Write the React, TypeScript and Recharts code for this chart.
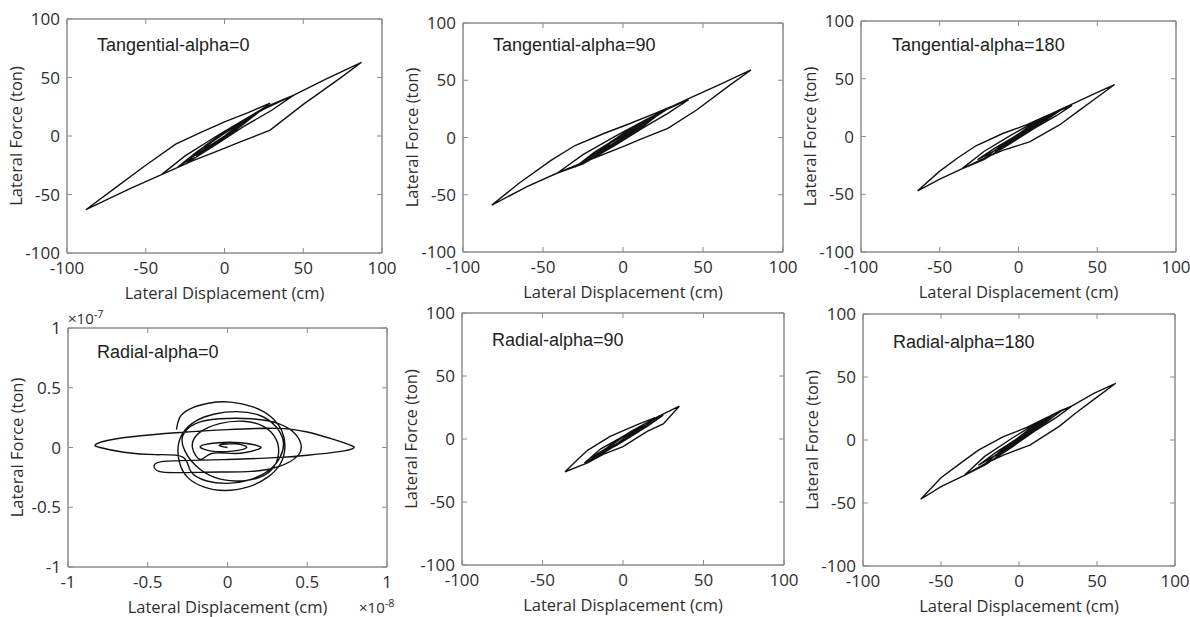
import React from 'react'
import { LineChart, Line, XAxis, YAxis, Label, ReferenceArea } from 'recharts'

const FONT = '"Open Sans", "DejaVu Sans", sans-serif'
const TITLE_FONT = '"Liberation Sans", Arial, sans-serif'
const AXIS_GREY = '#8c8c8c'
const TEXT_GREY = '#2e2e2e'

const tonTicks = [-100, -50, 0, 50, 100]
const scaledTicks = [-1, -0.5, 0, 0.5, 1]

// Tangential, alpha = 0
const tan0Disp = [0, 10, 18, 8, -5, -16, -8, 5, 20, 24, 12, -2, -18, -24, -12, 5, 25, 44, 30, 12, -5, -25, -40, -25, -5, 15, 30, 44, 65, 87, 73, 50, 29, 10, -3, -20, -40, -60, -88, -70, -50, -31, -15, 0, 15, 29, 15, 0, -15, -30, -18, -2, 12, 25, 12, -3, -18, -8, 4, 15, 5, -6, 0]
const tan0Force = [0, 11, 17, 6, -7, -15, -5, 7, 20, 23, 10, -4, -18, -22, -8, 8, 23, 35, 22, 8, -7, -24, -33, -17, 0, 16, 27, 35, 49, 63, 49, 27, 5, -5, -12, -21, -33, -45, -63, -45, -25, -7, 3, 12, 20, 28, 14, 0, -13, -27, -14, 1, 13, 24, 10, -4, -17, -5, 6, 14, 3, -6, 0]

// Tangential, alpha = 90
const tan90Disp = [0, 10, 18, 8, -5, -16, -8, 5, 20, 24, 12, -2, -18, -24, -12, 5, 25, 41, 28, 12, -5, -25, -41, -25, -5, 15, 29, 41, 60, 80, 67, 46, 28, 10, 0, -20, -41, -60, -82, -65, -45, -30, -12, 4, 20, 30, 18, 2, -14, -30, -18, -2, 12, 25, 12, -3, -17, -8, 4, 14, 5, -5, 0]
const tan90Force = [0, 10, 16, 6, -6, -14, -4, 7, 19, 22, 9, -3, -17, -21, -8, 8, 23, 33, 21, 8, -7, -23, -31, -15, 1, 16, 26, 34, 46, 59, 46, 24, 8, -2, -8, -19, -31, -43, -59, -40, -20, -7, 3.5, 12, 21, 27, 16, 2, -12, -26, -13, 1, 12, 23, 10, -3, -16, -5, 5, 13, 3, -5, 0]

// Tangential, alpha = 180
const tan180Disp = [0, 8, 15, 6, -5, -14, -6, 5, 18, 22, 10, -3, -16, -22, -10, 6, 20, 34, 24, 10, -5, -22, -36, -22, -5, 12, 26, 34, 48, 61, 50, 36, 26, 7, -10, -22, -36, -50, -64, -50, -38, -27, -10, 5, 18, 27, 15, 0, -12, -26, -15, 0, 12, 22, 10, -3, -15, -6, 4, 12, 4, -4, 0]
const tan180Force = [0, 9, 13, 4, -6, -12, -4, 7, 17, 20, 8, -3, -15, -19, -7, 8, 19, 27, 18, 7, -6, -20, -28, -13, 1, 14, 23, 28, 37, 45, 34, 20, 10, -4.6, -12, -19, -28, -37, -47, -30, -18, -8, 2.6, 10, 18, 23, 12, 1, -10, -20, -10, 2, 12, 20, 8, -3, -13, -4, 5, 11, 2, -4, 0]

// Radial, alpha = 0 (displacement in 1e-8 cm, force in 1e-7 ton)
const rad0Disp = [-0.32, -0.3, -0.24, -0.12, 0.02, 0.16, 0.27, 0.34, 0.36, 0.33, 0.25, 0.13, -0.02, -0.15, -0.25, -0.3, -0.31, -0.28, -0.2, -0.08, 0.06, 0.2, 0.3, 0.35, 0.33, 0.26, 0.14, 0, -0.13, -0.23, -0.28, -0.45, -0.65, -0.8, -0.83, -0.78, -0.6, -0.3, 0, 0.3, 0.5, 0.66, 0.77, 0.79, 0.7, 0.5, 0.3, 0, -0.3, -0.42, -0.46, -0.43, -0.3, -0.05, 0.15, 0.32, 0.44, 0.46, 0.42, 0.32, 0.15, -0.05, -0.2, -0.28, -0.27, -0.2, -0.08, 0.05, 0.18, 0.28, 0.32, 0.3, 0.22, 0.1, -0.05, -0.18, -0.22, -0.17, -0.1, 0.05, 0.18, 0.2, 0.08, -0.06, -0.17, -0.1, 0.03, 0.12, 0.05, -0.05, 0]
const rad0Force = [0.15, 0.25, 0.32, 0.37, 0.38, 0.34, 0.26, 0.14, 0, -0.14, -0.25, -0.33, -0.36, -0.33, -0.25, -0.13, 0, 0.12, 0.22, 0.28, 0.3, 0.27, 0.18, 0.05, -0.08, -0.19, -0.27, -0.3, -0.28, -0.2, -0.08, -0.06, -0.04, 0, 0.02, 0.05, 0.09, 0.125, 0.15, 0.16, 0.13, 0.07, 0.02, -0.005, -0.035, -0.065, -0.085, -0.1, -0.11, -0.12, -0.15, -0.2, -0.21, -0.205, -0.2, -0.16, -0.07, 0.03, 0.12, 0.2, 0.24, 0.24, 0.2, 0.1, -0.02, -0.15, -0.25, -0.28, -0.26, -0.18, -0.05, 0.08, 0.18, 0.22, 0.2, 0.12, 0, -0.1, -0.05, -0.05, -0.02, 0.01, 0.04, 0.04, 0.01, -0.03, -0.03, 0, 0.03, 0.02, 0]

// Radial, alpha = 90
const rad90Disp = [0, 6, 12, 4, -5, -12, -5, 4, 15, 20, 10, -2, -14, -20, -10, 5, 18, 25, 15, 2, -12, -24, -14, 0, 12, 22, 35, 25, 15, 0, -12, -22, -36, -28, -22, -8, 10, 20, 10, -4, -16, -6, 5, 14, 5, -4, 0]
const rad90Force = [0, 6, 10, 3, -5, -10, -3, 5, 13, 16, 7, -2, -12, -15, -7, 6, 15, 19, 10, 0, -11, -19, -8, 2, 11, 18, 26, 12, 6, -6, -12, -19, -26, -16, -9, 2, 12, 17, 6, -5, -13, -3, 6, 11, 3, -4, 0]

// Radial, alpha = 180
const rad180Disp = [0, 8, 15, 6, -5, -14, -6, 5, 18, 22, 10, -3, -16, -22, -10, 6, 20, 34, 24, 10, -5, -22, -35, -22, -5, 12, 26, 34, 48, 62, 50, 36, 26, 7, -10, -22, -35, -50, -63, -50, -37, -26, -10, 5, 18, 27, 15, 0, -12, -26, -15, 0, 12, 22, 10, -3, -15, -6, 4, 12, 4, -4, 0]
const rad180Force = [0, 9, 13, 4, -6, -12, -4, 7, 17, 20, 8, -3, -15, -19, -7, 8, 19, 27, 18, 7, -6, -20, -28, -13, 1, 14, 23, 27, 37, 45, 34, 21, 11, -4, -12, -19, -28, -37, -47, -30, -18, -8, 2.6, 10, 18, 23, 12, 1, -10, -20, -10, 2, 12, 20, 8, -3, -13, -4, 5, 11, 2, -4, 0]

// chart frame around the plot box
const ML = 65
const MT = 15
const MR = 15
const MB = 55

interface PanelProps {
  disp: number[]
  force: number[]
  box: [number, number, number, number] // plot left, top, width, height on the page
  ticks: number[]
  title: string
  titleAt: [number, number]
  curve?: 'linear' | 'natural'
}

function HysteresisPanel({ disp, force, box, ticks, title, titleAt, curve = 'linear' }: PanelProps) {
  const data = disp.map((d, i) => ({ d, f: force[i] }))
  const [px, py, pw, ph] = box
  const lo = ticks[0]
  const hi = ticks[ticks.length - 1]
  const domain: [number, number] = [lo, hi]
  const tickStyle = { fill: TEXT_GREY, fontSize: 17, fontFamily: FONT }
  const lineStyle = { stroke: AXIS_GREY, strokeWidth: 1 }

  return (
    <>
      <div style={{ position: 'absolute', left: px - ML, top: py - MT }}>
        <LineChart
          width={pw + ML + MR}
          height={ph + MT + MB}
          data={data}
          margin={{ top: MT - 1, right: MR - 1, left: 0, bottom: 0 }}
        >
          <XAxis
            xAxisId="b"
            dataKey="d"
            type="number"
            domain={domain}
            ticks={ticks}
            allowDataOverflow
            interval={0}
            height={MB}
            tickSize={-5}
            tickMargin={14}
            axisLine={lineStyle}
            tickLine={lineStyle}
            tick={tickStyle}
          >
            <Label
              value="Lateral Displacement (cm)"
              position="insideBottom"
              offset={9}
              fill={TEXT_GREY}
              fontSize={16.5}
              fontFamily={FONT}
            />
          </XAxis>
          <XAxis
            xAxisId="t"
            orientation="top"
            dataKey="d"
            type="number"
            domain={domain}
            ticks={ticks}
            allowDataOverflow
            interval={0}
            height={1}
            tickSize={-5}
            tickFormatter={() => ''}
            axisLine={lineStyle}
            tickLine={lineStyle}
          />
          <YAxis
            yAxisId="l"
            type="number"
            domain={domain}
            ticks={ticks}
            allowDataOverflow
            interval={0}
            width={ML}
            tickSize={-5}
            tickMargin={12}
            axisLine={lineStyle}
            tickLine={lineStyle}
            tick={tickStyle}
          >
            <Label
              value="Lateral Force (ton)"
              angle={-90}
              position="insideLeft"
              offset={14}
              fill={TEXT_GREY}
              fontSize={16.5}
              fontFamily={FONT}
              style={{ textAnchor: 'middle' }}
            />
          </YAxis>
          <YAxis
            yAxisId="r"
            orientation="right"
            type="number"
            domain={domain}
            ticks={ticks}
            allowDataOverflow
            interval={0}
            width={1}
            tickSize={-5}
            tickFormatter={() => ''}
            axisLine={lineStyle}
            tickLine={lineStyle}
          />
          <ReferenceArea
            xAxisId="b"
            yAxisId="l"
            x1={lo}
            x2={hi}
            y1={lo}
            y2={hi}
            fill="none"
            fillOpacity={0}
            stroke={AXIS_GREY}
            strokeWidth={1}
          />
          <Line
            xAxisId="b"
            yAxisId="l"
            dataKey="f"
            type={curve}
            stroke="#111111"
            strokeWidth={1.4}
            dot={false}
            isAnimationActive={false}
          />
          <Line
            xAxisId="t"
            yAxisId="r"
            dataKey="f"
            stroke="none"
            dot={false}
            isAnimationActive={false}
          />
        </LineChart>
      </div>
      <div
        style={{
          position: 'absolute',
          left: titleAt[0],
          top: titleAt[1] - 9,
          fontFamily: TITLE_FONT,
          fontSize: 18,
          lineHeight: '18px',
          color: '#1e1e1e',
          whiteSpace: 'nowrap'
        }}
      >
        {title}
      </div>
    </>
  )
}

function Exponent({ left, top, power }: { left: number; top: number; power: string }) {
  return (
    <div
      style={{
        position: 'absolute',
        left,
        top,
        fontFamily: FONT,
        fontSize: 15,
        lineHeight: '18px',
        color: TEXT_GREY,
        whiteSpace: 'nowrap'
      }}
    >
      ×10<span style={{ fontSize: 11, verticalAlign: 'super', lineHeight: 0 }}>{power}</span>
    </div>
  )
}

export default function App() {
  return (
    <div
      style={{
        position: 'absolute',
        left: 0,
        top: 0,
        width: 1190,
        height: 617,
        background: '#ffffff',
        overflow: 'hidden'
      }}
    >
      <HysteresisPanel disp={tan0Disp} force={tan0Force} box={[67, 19, 315, 234]} ticks={tonTicks} title="Tangential-alpha=0" titleAt={[97, 45]} />
      <HysteresisPanel disp={tan90Disp} force={tan90Force} box={[463, 23, 320, 229]} ticks={tonTicks} title="Tangential-alpha=90" titleAt={[493, 45]} />
      <HysteresisPanel disp={tan180Disp} force={tan180Force} box={[861, 21, 315, 231]} ticks={tonTicks} title="Tangential-alpha=180" titleAt={[892, 45]} />
      <HysteresisPanel disp={rad0Disp} force={rad0Force} box={[68, 328, 319, 239]} ticks={scaledTicks} title="Radial-alpha=0" titleAt={[97, 352]} curve="natural" />
      <HysteresisPanel disp={rad90Disp} force={rad90Force} box={[462, 313, 322, 252]} ticks={tonTicks} title="Radial-alpha=90" titleAt={[492, 340]} />
      <HysteresisPanel disp={rad180Disp} force={rad180Force} box={[863, 314, 312, 252]} ticks={tonTicks} title="Radial-alpha=180" titleAt={[893, 342]} />
      <Exponent left={68} top={309} power="-7" />
      <Exponent left={359} top={598} power="-8" />
    </div>
  )
}
